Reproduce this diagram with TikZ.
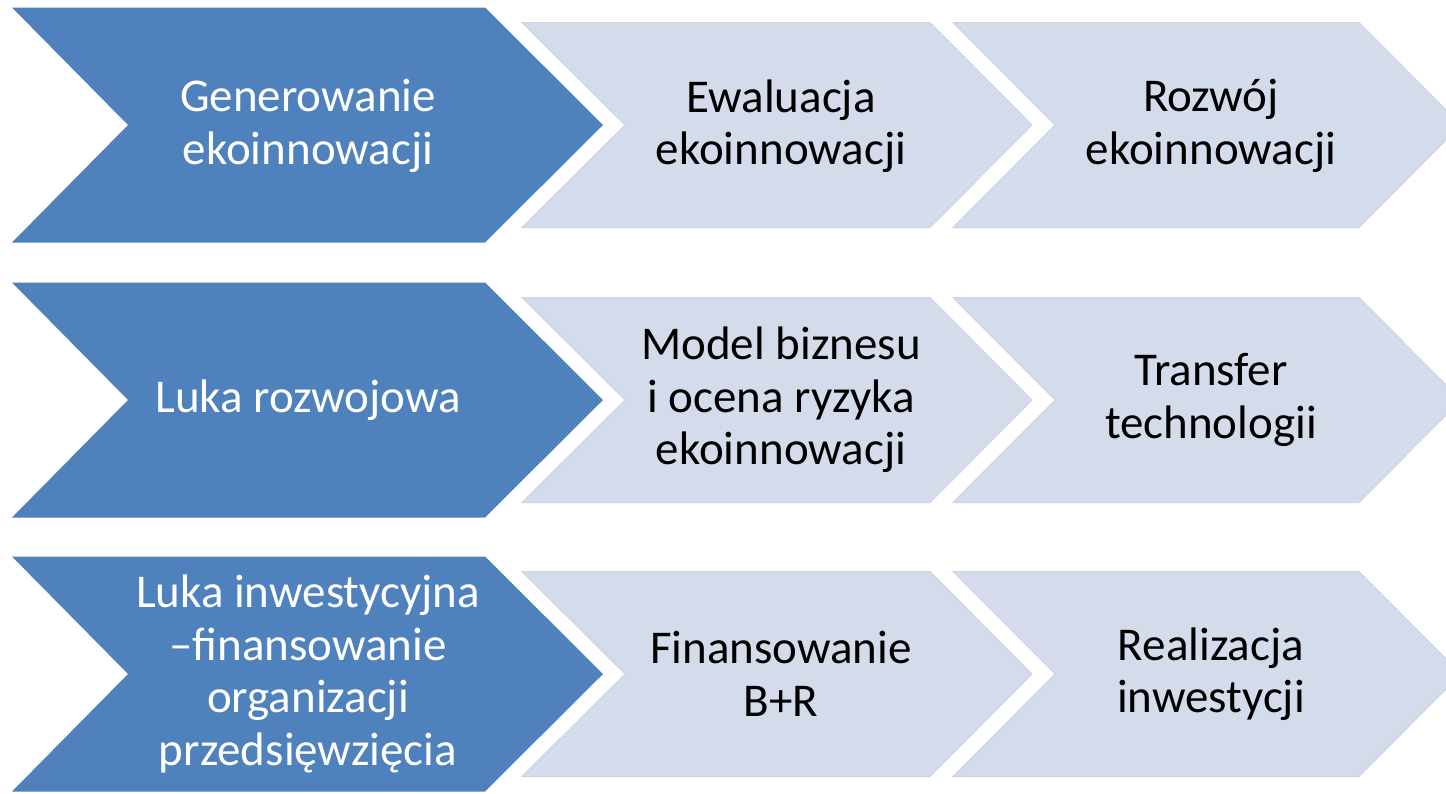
\documentclass[tikz,border=0pt]{standalone}
\usepackage{fontspec}
\setmainfont{Carlito}
\definecolor{darkblue}{RGB}{79,129,189}
\definecolor{lightfill}{RGB}{212,220,235}
\definecolor{lightedge}{RGB}{204,213,231}
\tikzset{
  darkchev/.style={fill=darkblue, draw=none},
  lightchev/.style={fill=lightfill, draw=lightedge, line width=1pt, line join=miter},
  txt/.style={align=center, font=\fontsize{47}{52.5}\selectfont, inner sep=0pt},
  darktxt/.style={txt, text=white},
  lighttxt/.style={txt, text=black}
}
\newcommand{\darkchevron}[1]{%
  \fill[darkchev] (12,#1-117.5) -- (485,#1-117.5) -- (603,#1) -- (485,#1+117.5) -- (12,#1+117.5) -- (128,#1) -- cycle;}
\newcommand{\lightchevA}[1]{%
  \draw[lightchev] (522,#1-102.5) -- (930,#1-102.5) -- (1032,#1) -- (930,#1+102.5) -- (522,#1+102.5) -- (625,#1) -- cycle;}
\newcommand{\lightchevB}[1]{%
  \draw[lightchev] (953,#1-102.5) -- (1359,#1-102.5) -- (1461,#1) -- (1359,#1+102.5) -- (953,#1+102.5) -- (1055,#1) -- cycle;}
\begin{document}
\begin{tikzpicture}[x=1pt,y=-1pt]
\useasboundingbox (0,0) rectangle (1446,793);
\fill[white] (0,0) rectangle (1446,793);
% row 1
\lightchevB{125}
\lightchevA{125}
\darkchevron{125}
\node[darktxt] (g1) at (308,126) {Generowanie\\ekoinnowacji};
\node[lighttxt] (e1) at (781,126) {Ewaluacja\\ekoinnowacji};
\node[lighttxt] (r1) at (1211,126) {Rozwój\\ekoinnowacji};
% row 2
\lightchevB{400}
\lightchevA{400}
\darkchevron{400}
\node[darktxt] (g2) at (308,400) {Luka rozwojowa};
\node[lighttxt] (e2) at (781,400) {Model biznesu\\i ocena ryzyka\\ekoinnowacji};
\node[lighttxt] (r2) at (1211,400) {Transfer\\technologii};
% row 3
\lightchevB{674}
\lightchevA{674}
\darkchevron{674}
\node[darktxt] (g3) at (308,674) {Luka inwestycyjna\\–finansowanie\\organizacji\\przedsięwzięcia};
\node[lighttxt] (e3) at (781,674) {Finansowanie\\B+R};
\node[lighttxt] (r3) at (1211,674) {Realizacja\\inwestycji};
\end{tikzpicture}
\end{document}
